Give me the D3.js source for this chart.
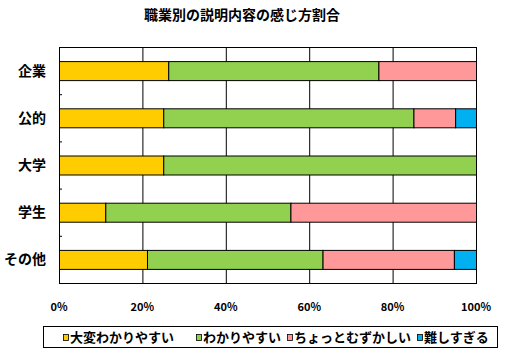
<!DOCTYPE html>
<html><head><meta charset="utf-8">
<script src="https://cdn.jsdelivr.net/npm/d3@7"></script>
<style>body{margin:0;background:#fff}svg{display:block}</style>
</head><body><svg id="c" width="514" height="356"></svg>
<script>
const categories = ["企業","公的","大学","学生","その他"];
const seriesNames = ["大変わかりやすい","わかりやすい","ちょっとむずかしい","難しすぎる"];
const s1 = [26.2, 25.0, 25.0, 11.1, 21.1];
const s2 = [50.4, 60.0, 75.0, 44.4, 42.1];
const s3 = [23.4, 10.0, 0, 44.5, 31.5];
const s4 = [0, 5.0, 0, 0, 5.3];
const xTicks = [0,20,40,60,80,100];
const colors = ["#FFCC00","#92D050","#FF9999","#00B0F0"];

const svg = d3.select("#c");
const font = "'Noto Sans CJK JP', sans-serif";
const L = 59, R = 476, T = 47, B = 283;
const x = d3.scaleLinear().domain([0,100]).range([L,R]);
const y = d3.scaleBand().domain(categories).range([T,B]).paddingInner(0).paddingOuter(0);

svg.append("text").attr("x",242).attr("y",20).attr("text-anchor","middle")
  .attr("font-family",font).attr("font-size",14).attr("font-weight","bold").text("職業別の説明内容の感じ方割合");

// grid
svg.append("g").selectAll("line").data(xTicks).join("line")
  .attr("x1",d=>x(d)+0.5).attr("x2",d=>x(d)+0.5).attr("y1",T).attr("y2",B)
  .attr("stroke","#000").attr("stroke-width",1);
svg.append("line").attr("x1",L).attr("x2",R+1).attr("y1",T+0.5).attr("y2",T+0.5).attr("stroke","#000");
svg.append("line").attr("x1",L).attr("x2",R+1).attr("y1",B+0.5).attr("y2",B+0.5).attr("stroke","#000");

// category ticks
const bounds = categories.slice(1).map(c=>y(c));
svg.append("g").selectAll("line").data(bounds).join("line")
  .attr("x1",L).attr("x2",L+3).attr("y1",d=>d+0.5).attr("y2",d=>d+0.5).attr("stroke","#000");

// stacked data
const rows = categories.map((c,i)=>({cat:c, a:s1[i], b:s2[i], c2:s3[i], d:s4[i]}));
const stack = d3.stack().keys(["a","b","c2","d"])(rows);
const bh = 19;
stack.forEach((layer,k)=>{
  svg.append("g").selectAll("rect").data(layer.filter(d=>d[1]-d[0]>0)).join("rect")
    .attr("x",d=>x(d[0])+0.5).attr("width",d=>x(d[1])-x(d[0]))
    .attr("y",d=>y(d.data.cat)+y.bandwidth()/2-bh/2+0.5).attr("height",bh)
    .attr("fill",colors[k]).attr("stroke","#000").attr("stroke-width",1);
});

// category labels
svg.append("g").selectAll("text").data(categories).join("text")
  .attr("x",46).attr("y",d=>y(d)+y.bandwidth()/2).attr("dy","0.36em").attr("text-anchor","end")
  .attr("font-family",font).attr("font-size",14).attr("font-weight","bold").text(d=>d);

// x labels
svg.append("g").selectAll("text").data(xTicks).join("text")
  .attr("x",d=>x(d)).attr("y",307).attr("dy","0.36em").attr("text-anchor","middle")
  .attr("font-family",font).attr("font-size",11).attr("font-weight","bold").text(d=>d+"%");

// legend
svg.append("rect").attr("x",43.5).attr("y",326.5).attr("width",454).attr("height",21).attr("fill","#fff").attr("stroke","#000");
const lx = [63,196,287,417];
const lg = svg.append("g").selectAll("g").data(seriesNames).join("g");
lg.append("rect").attr("x",(d,i)=>lx[i]+0.5).attr("y",334.5).attr("width",5).attr("height",6)
  .attr("fill",(d,i)=>colors[i]).attr("stroke","#000").attr("stroke-width",0.8);
lg.append("text").attr("x",(d,i)=>lx[i]+7).attr("y",337.5).attr("dy","0.36em")
  .attr("font-family",font).attr("font-size",13).attr("font-weight","bold").text(d=>d);
</script></body></html>
